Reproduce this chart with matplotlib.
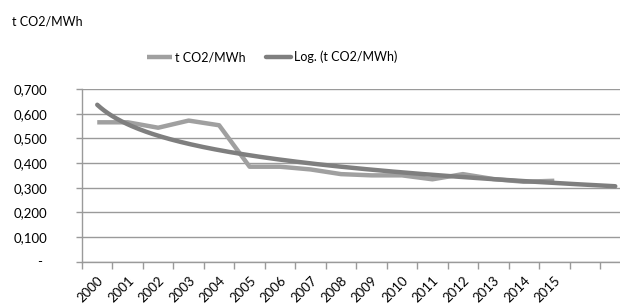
import numpy as np
import matplotlib
matplotlib.use("Agg")
import matplotlib.pyplot as plt

years = ["2000", "2001", "2002", "2003", "2004", "2005", "2006", "2007",
         "2008", "2009", "2010", "2011", "2012", "2013", "2014", "2015"]
co2 = [0.565, 0.565, 0.543, 0.572, 0.553, 0.385, 0.385, 0.374,
       0.355, 0.350, 0.350, 0.334, 0.355, 0.335, 0.324, 0.328]
forward_periods = 2
yticks = [0.0, 0.1, 0.2, 0.3, 0.4, 0.5, 0.6, 0.7]
yticklabels = ["-", "0,100", "0,200", "0,300", "0,400", "0,500", "0,600", "0,700"]
series_label = "t CO2/MWh"
trend_label = "Log. (t CO2/MWh)"
title = "t CO2/MWh"

plt.rcParams['font.family'] = ['Lato', 'DejaVu Sans']
FS = 9.5
FS_TXT = 9

W, H = 620, 307
fig = plt.figure(figsize=(W / 100, H / 100), dpi=100)
left, right, bottom, top = 82, 630.5, 261.7, 89
ax = fig.add_axes([left / W, 1 - bottom / H, (right - left) / W, (bottom - top) / H])

n = len(co2)
x = np.arange(1, n + 1)
ax.plot(x, co2, color="#a0a0a0", lw=3.2, solid_capstyle="butt", label=series_label, zorder=3)

# logarithmic trendline (least squares on ln x), extended forward
a, b = np.polyfit(np.log(x), np.array(co2), 1)
xt = np.linspace(1, n + forward_periods, 300)
ax.plot(xt, a * np.log(xt) + b, color="#7f7f7f", lw=3.2, solid_capstyle="round",
        label=trend_label, zorder=4)

ax.set_xlim(0.5, n + forward_periods + 0.5)
ax.set_ylim(0, 0.7)
ax.set_yticks(yticks)
labels_shown = [("" if t == "-" else t) for t in yticklabels]
ax.set_yticklabels(labels_shown, fontsize=FS)
ax.yaxis.grid(True, color="#9a9a9a", lw=1)
ax.set_axisbelow(True)
# accounting-style dash for zero, offset to the left like the original
for v, t in zip(yticks, yticklabels):
    if t == "-":
        ax.annotate(t, xy=(0, v), xycoords=("axes fraction", "data"),
                    xytext=(-42, 0), textcoords="offset pixels",
                    ha="center", va="center", fontsize=FS)

ax.set_xticks(np.arange(0.5, n + forward_periods + 0.5, 1))
ax.set_xticklabels([])
ax.set_xticks(x, minor=True)
ax.set_xticklabels(years, minor=True, rotation=45, ha="right", va="top",
                   rotation_mode="anchor", fontsize=FS)
ax.tick_params(axis="x", which="minor", length=0, pad=9)
ax.tick_params(axis="x", which="major", length=5, color="#9a9a9a", width=1)
ax.tick_params(axis="y", length=4, color="#9a9a9a", width=1, pad=21)

for s in ["top", "right"]:
    ax.spines[s].set_visible(False)
for s in ["left", "bottom"]:
    ax.spines[s].set_color("#9a9a9a")
    ax.spines[s].set_linewidth(1)

fig.text(12 / W, 1 - 22 / H, title, fontsize=FS_TXT, ha="left", va="center")
leg = fig.legend(loc="center", bbox_to_anchor=(272 / W, 1 - 57 / H), ncol=2, frameon=False,
                 fontsize=FS_TXT, handlelength=2.0, handletextpad=0.25, columnspacing=1.6)

fig.savefig("out.png", dpi=100)
